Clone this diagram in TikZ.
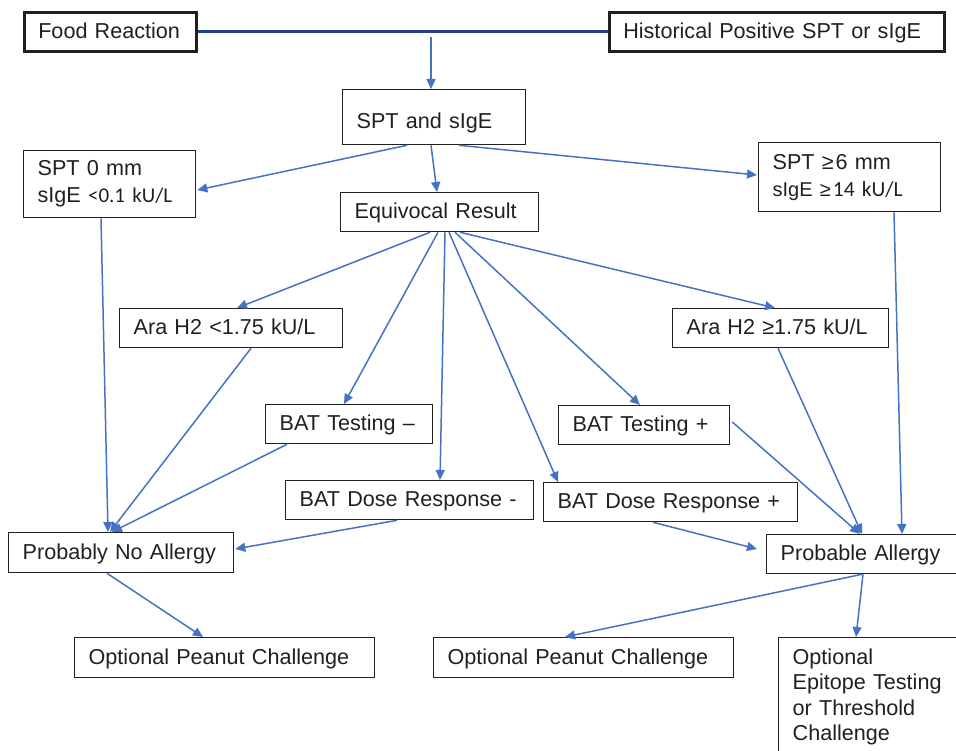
\documentclass[tikz,border=0pt]{standalone}
\usepackage{fontspec}
\setmainfont{Liberation Sans}
\newfontfamily\calfont{Carlito}
\usetikzlibrary{arrows.meta,calc}
\definecolor{arrowblue}{HTML}{4472C4}
\definecolor{navyline}{HTML}{203F8C}
\definecolor{ink}{HTML}{231F20}
\newcommand\bxstrut{\rule[-5.4pt]{0pt}{24.4pt}}
\begin{document}
\begin{tikzpicture}[x=1pt,y=-1pt,
  box/.style={draw=ink, line width=1.3pt, anchor=north west, inner xsep=14pt, inner ysep=0pt,
    align=left, text=ink, font=\fontsize{21.6}{27}\selectfont},
  thickbox/.style={box, line width=2.6pt},
  conn/.style={draw=arrowblue, line width=1.5pt, -{Triangle[length=10pt,width=9pt]}},
  navyconn/.style={draw=navyline, line width=3pt},
]
\useasboundingbox (0,0) rectangle (956,751);

% nodes
\node[thickbox, text width=144pt, minimum height=39pt] (food) at (23,11) {\mbox{\bxstrut Food Reaction}};
\node[thickbox, text width=307pt, minimum height=39pt] (hist) at (608,11) {\mbox{\bxstrut Historical Positive SPT or sIgE}};
\node[box, text width=155pt, minimum height=55pt] (spt) at (342,89) {\raisebox{-4.5pt}[\height][\depth]{\mbox{\bxstrut SPT and sIgE}}};
\node[box, text width=144pt, minimum height=67pt] (neg) at (23,150) {SPT 0 mm\\\mbox{sIgE {\calfont\fontsize{21}{27}\selectfont <0.1 kU/L}}};
\node[box, text width=154pt, minimum height=69pt] (pos) at (758,142) {SPT ≥\hspace{2pt}6 mm\\\mbox{\fontsize{20}{27}\selectfont sIgE ≥\hspace{2pt}{\calfont\fontsize{21.5}{27}\selectfont 14 kU/L}}};
\node[box, text width=170pt, minimum height=39pt] (equiv) at (340,192) {\mbox{\bxstrut Equivocal Result}};
\node[box, text width=195pt, minimum height=39pt] (araneg) at (119,308) {\mbox{\bxstrut Ara H2 <1.75 kU/L}};
\node[box, text width=188pt, minimum height=39pt] (arapos) at (672,308) {\mbox{\bxstrut Ara H2 ≥1.75 kU/L}};
\node[box, text width=139pt, minimum height=39pt] (batneg) at (265,404) {\mbox{\bxstrut BAT Testing –}};
\node[box, text width=143pt, minimum height=39pt] (batpos) at (558,405) {\mbox{\bxstrut BAT Testing +}};
\node[box, text width=220pt, minimum height=39pt] (drneg) at (285,480) {\mbox{\bxstrut BAT Dose Response -}};
\node[box, text width=226pt, minimum height=39pt] (drpos) at (543,482) {\mbox{\bxstrut BAT Dose Response +}};
\node[box, text width=197pt, minimum height=40pt] (pna) at (8,532) {\mbox{\bxstrut Probably No Allergy}};
\node[box, text width=166pt, minimum height=39pt] (pa) at (766,534) {\mbox{\bxstrut Probable Allergy}};
\node[box, text width=272pt, minimum height=40pt] (opcl) at (74,637) {\mbox{\bxstrut Optional Peanut Challenge}};
\node[box, text width=272pt, minimum height=40pt] (opcr) at (433,637) {\mbox{\bxstrut Optional Peanut Challenge}};
\node[box, text width=154pt, inner ysep=11pt, font=\fontsize{21.6}{25.5}\selectfont] (epi) at (778,637)
  {Optional\\\mbox{Epitope Testing}\\or Threshold\\Challenge};

% connectors
\draw[navyconn] (food.east) -- (hist.west);
\coordinate (join) at (431,37);
\draw[conn] (join) -- ($(spt.north west)+(89,0)$);
\draw[conn] ($(spt.south west)+(65,0)$) -- ($(neg.north east)+(1,40)$);
\draw[conn] ($(spt.south west)+(89,0)$) -- ($(equiv.north west)+(97,0)$);
\draw[conn] ($(spt.south west)+(117,0)$) -- ($(pos.north west)+(-1,33)$);
\draw[conn] ($(equiv.south west)+(90,0)$) -- ($(araneg.north west)+(118,0)$);
\draw[conn] ($(equiv.south west)+(98,0)$) -- ($(batneg.north west)+(79,0)$);
\draw[conn] ($(equiv.south west)+(105,0)$) -- ($(drneg.north west)+(155,0)$);
\draw[conn] ($(equiv.south west)+(109,0)$) -- ($(drpos.north west)+(15,0)$);
\draw[conn] ($(equiv.south west)+(115,0)$) -- ($(batpos.north west)+(82,0)$);
\draw[conn] ($(equiv.south west)+(120,0)$) -- ($(arapos.north west)+(103,0)$);
\draw[conn] ($(neg.south west)+(78,0)$) -- ($(pna.north west)+(100,0)$);
\draw[conn] ($(araneg.south west)+(132,0)$) -- ($(pna.north west)+(102,0)$);
\draw[conn] ($(batneg.south west)+(22,0)$) -- ($(pna.north west)+(104,0)$);
\draw[conn] ($(drneg.south west)+(112,0)$) -- ($(pna.north east)+(1,17)$);
\draw[conn] ($(pna.south west)+(99,0)$) -- ($(opcl.north west)+(129,0)$);
\draw[conn] ($(arapos.south west)+(106,0)$) -- ($(pa.north west)+(96,0)$);
\draw[conn] ($(batpos.north east)+(2,17)$) -- ($(pa.north west)+(94,0)$);
\draw[conn] ($(pos.south west)+(136,0)$) -- ($(pa.north west)+(136,0)$);
\draw[conn] ($(drpos.south west)+(110,0)$) -- ($(pa.north west)+(-9,15)$);
\draw[conn] ($(pa.south west)+(96,0)$) -- ($(opcr.north west)+(132,0)$);
\draw[conn] ($(pa.south west)+(97,0)$) -- ($(epi.north west)+(78,0)$);
\end{tikzpicture}
\end{document}
